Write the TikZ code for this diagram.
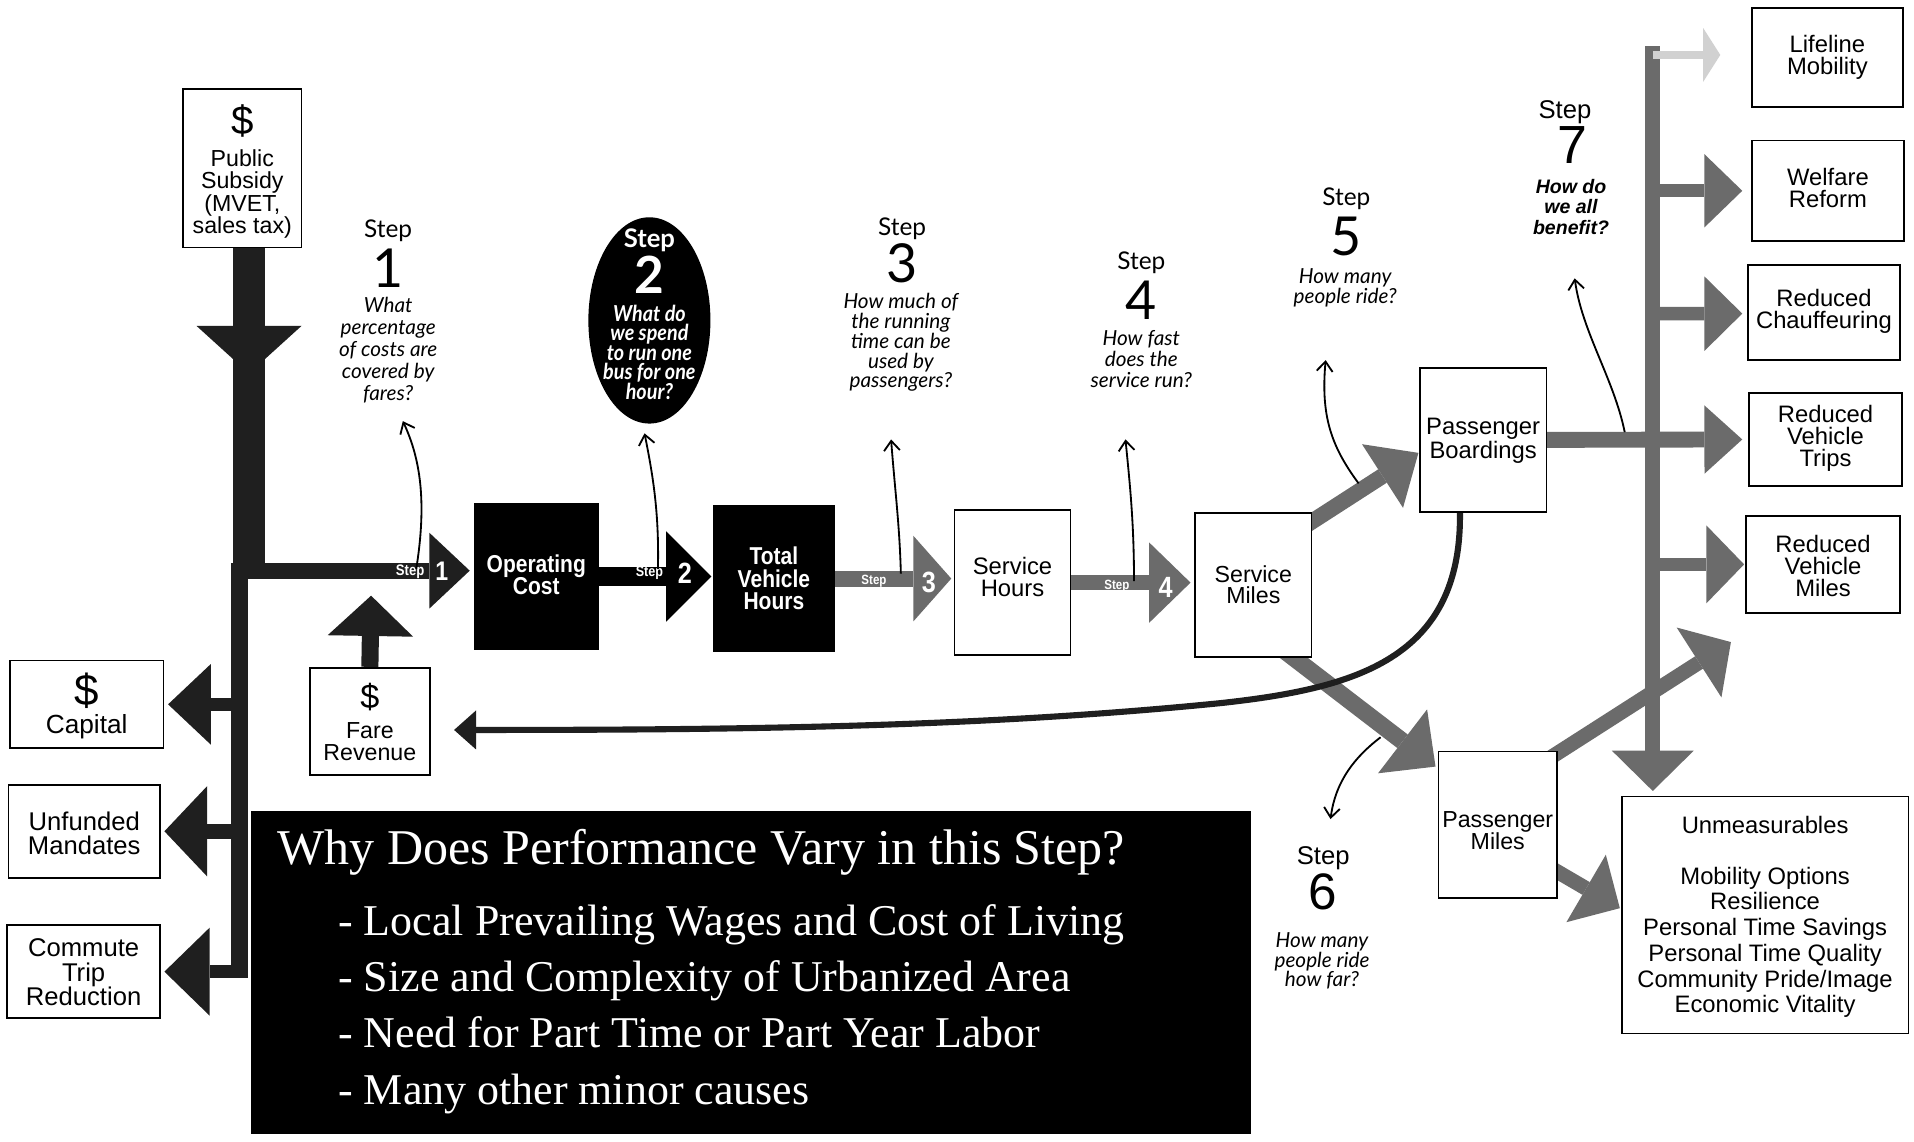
\documentclass[tikz,border=0pt]{standalone}
\usepackage{fontspec}
\setmainfont{Liberation Serif}
\newfontfamily\helv{Liberation Sans}
\newfontfamily\helvn[FakeStretch=0.86]{Liberation Sans}
\newfontfamily\gill{Lato}
\newfontfamily\gilln[FakeStretch=0.9]{Lato}
\usetikzlibrary{arrows.meta,shapes.geometric,backgrounds}
\newcommand\fsz[2]{\fontsize{#1pt}{#2pt}\selectfont}

\colorlet{inkdark}{black!88}
\colorlet{inkgrey}{black!58}
\colorlet{inkfaint}{black!18}

\tikzset{
  framebox/.style={draw=black, line width=1.4pt, fill=white, inner sep=0pt},
  solidbox/.style={fill=black, inner sep=0pt},
  txt/.style={inner sep=0pt, align=center},
  boxtxt/.style={txt, font=\helv\fsz{19.5}{18}},
  boldtxt/.style={txt, text=white, font=\helvn\bfseries\fsz{20}{18.5}},
  steptxt/.style={txt, font=\gill\fsz{20}{20}},
  stepnum/.style={txt, font=\gill\fsz{44}{44}},
  stepq/.style={txt, font=\gill\itshape\fsz{17}{#1}},
  stepq/.default=17.5,
  arrowlbl/.style={txt, text=white, font=\helvn\bfseries\fsz{#1}{#1}},
  blockarrow/.style n args={3}{line width=#1, -{Triangle[length=#2, width=#3, line width=0pt]}},
  question/.style={line width=1.5pt, -{Straight Barb[length=8pt, width=13pt]}},
}

\begin{document}
\begin{tikzpicture}[x=1pt, y=-1pt]
\useasboundingbox (0,0) rectangle (1568,935.5);

% ---------- funding side ----------
\node[framebox, minimum width=97pt, minimum height=130pt] (pub) at (198.5,137.7) {};
\node[txt, font=\helv\fsz{33}{33}] (pubD) at (198.5,99) {\$};
\node[txt, font=\helv\fsz{19}{18.5}] (pubT) at (198.5,159) {Public\\Subsidy\\(MVET,\\sales tax)};

\node[framebox, minimum width=126pt, minimum height=72pt] (cap) at (71,577) {};
\node[txt, font=\helv\fsz{36}{36}] (capD) at (71,566) {\$};
\node[txt, font=\helv\fsz{21.5}{20}] (capT) at (71,595) {Capital};

\node[framebox, minimum width=124pt, minimum height=76pt] (unf) at (69,681) {};
\node[txt, font=\helv\fsz{21}{20}] (unfT) at (69,682.5) {Unfunded\\Mandates};

\node[framebox, minimum width=125pt, minimum height=76pt] (com) at (68.5,796) {};
\node[txt, font=\helv\fsz{21}{20}] (comT) at (68.5,796.5) {Commute\\Trip\\Reduction};

\node[framebox, minimum width=98pt, minimum height=88pt] (fare) at (303,591) {};
\node[txt, font=\helv\fsz{28}{28}] (fareD) at (303,571) {\$};
\node[txt, font=\helv\fsz{19}{18.5}] (fareT) at (303,607.5) {Fare\\Revenue};

% ---------- main chain ----------
\node[solidbox, minimum width=102.6pt, minimum height=120.5pt] (op) at (439.3,472.25) {};
\node[boldtxt] (opT) at (439.3,471) {Operating\\Cost};
\node[solidbox, minimum width=100pt, minimum height=120pt] (tvh) at (634,474) {};
\node[boldtxt] (tvhT) at (634,474) {Total\\Vehicle\\Hours};
\node[framebox, minimum width=95pt, minimum height=118.6pt] (sh) at (829.5,477.3) {};
\node[boxtxt] (shT) at (829.5,473) {Service\\Hours};
\node[framebox, minimum width=95.5pt, minimum height=117.5pt] (sm) at (1026.75,479.25) {};
\node[boxtxt, font=\helv\fsz{19}{17}] (smT) at (1026.75,479) {Service\\Miles};
\node[framebox, minimum width=104pt, minimum height=117.8pt] (pb) at (1215,360.5) {};
\node[boxtxt] (pbT) at (1215,361) {Passenger\\Boardings};
\node[framebox, minimum width=97pt, minimum height=120pt] (pm) at (1227,675.75) {};
\node[boxtxt, font=\helv\fsz{19}{17}] (pmT) at (1227,680.5) {Passenger\\Miles};

% ---------- benefits ----------
\node[framebox, minimum width=124pt, minimum height=81pt] (life) at (1497,47) {};
\node[boxtxt] (lifeT) at (1497,47) {Lifeline\\Mobility};
\node[framebox, minimum width=125pt, minimum height=82.6pt] (welf) at (1497.5,156.3) {};
\node[boxtxt] (welfT) at (1497.5,154) {Welfare\\Reform};
\node[framebox, minimum width=124.5pt, minimum height=77.8pt] (chau) at (1494.25,255.9) {};
\node[boxtxt] (chauT) at (1494.25,255) {Reduced\\Chauffeuring};
\node[framebox, minimum width=125pt, minimum height=76pt] (trip) at (1495.5,360) {};
\node[boxtxt] (tripT) at (1495.5,359) {Reduced\\Vehicle\\Trips};
\node[framebox, minimum width=126pt, minimum height=79.3pt] (vmil) at (1493.5,462.35) {};
\node[boxtxt] (vmilT) at (1493.5,463.5) {Reduced\\Vehicle\\Miles};
\node[framebox, minimum width=234.5pt, minimum height=194pt] (um) at (1446.25,749.55) {};
\node[boxtxt] (umH) at (1446,676) {Unmeasurables};
\node[boxtxt, font=\helv\fsz{19.5}{21.1}] (umT) at (1446,772)
  {Mobility Options\\Resilience\\Personal Time Savings\\Personal Time Quality\\Community Pride/Image\\Economic Vitality};

% ---------- step captions ----------
\node[steptxt] (s1w) at (318,189) {Step};
\node[stepnum] (s1n) at (318,220) {1};
\node[stepq=18] (s1q) at (318,287) {What\\percentage\\of costs are\\covered by\\fares?};

\node[ellipse, fill=black, minimum width=100pt, minimum height=169pt, inner sep=0pt] (s2) at (532,262.5) {};
\node[txt, text=white, font=\gill\bfseries\fsz{21}{21}] (s2w) at (532,197) {Step};
\node[txt, text=white, font=\gill\bfseries\fsz{42}{42}] (s2n) at (532,225) {2};
\node[txt, text=white, font=\gilln\bfseries\itshape\fsz{18}{16}] (s2q) at (532,288.5) {What do\\we spend\\to run one\\bus for one\\hour?};

\node[steptxt] (s3w) at (739,187) {Step};
\node[stepnum] (s3n) at (739,216) {3};
\node[stepq=16.3] (s3q) at (738,280.5) {How much of\\the running\\time can be\\used by\\passengers?};

\node[steptxt] (s4w) at (935,215.6) {Step};
\node[stepnum] (s4n) at (935,246) {4};
\node[stepq=17] (s4q) at (935,294) {How fast\\does the\\service run?};

\node[steptxt] (s5w) at (1103,162.5) {Step};
\node[stepnum] (s5n) at (1103,194) {5};
\node[stepq=16] (s5q) at (1102,236) {How many\\people ride?};

\node[txt, font=\helv\fsz{21}{21}] (s6w) at (1084,703) {Step};
\node[txt, font=\helv\fsz{42}{42}] (s6n) at (1084,731) {6};
\node[stepq=16] (s6q) at (1083,787.5) {How many\\people ride\\how far?};

\node[txt, font=\helv\fsz{21}{21}] (s7w) at (1282,92) {Step};
\node[txt, font=\helv\fsz{44}{44}] (s7n) at (1288,119) {7};
\node[txt, font=\helv\bfseries\itshape\fsz{16}{17}] (s7q) at (1287,169.5) {How do\\we all\\benefit?};

% ---------- explanation panel ----------
\node[solidbox, minimum width=819pt, minimum height=265pt] (why) at (615.5,796.5) {};
\node[anchor=base west, inner sep=0pt, text=white, font=\fsz{41}{41}] (whyH) at (227,708) {Why Does Performance Vary in this Step?};
\begin{scope}[every node/.style={anchor=base west, inner sep=0pt, text=white, font=\fsz{36}{36}}]
  \node (why1) at (277,766) {- Local Prevailing Wages and Cost of Living};
  \node (why2) at (277,812) {- Size and Complexity of Urbanized Area};
  \node (why3) at (277,858) {- Need for Part Time or Part Year Labor};
  \node (why4) at (277,905) {- Many other minor causes};
\end{scope}

% ---------- free ends ----------
\coordinate (trunkL) at (210,467.5);
\coordinate (fareTip) at (304,488);
\coordinate (fareIn) at (372,598);
\coordinate (smOut) at (1055,440);
\coordinate (pbTip) at (1162,371);
\coordinate (smLow) at (1030,516);
\coordinate (pmTip) at (1176,628);
\coordinate (pmUp) at (1240,640);
\coordinate (upTip) at (1418,526);
\coordinate (pmOut) at (1250,699);
\coordinate (umTip) at (1327,744);
\coordinate (barTop) at (1354,38);
\coordinate (barEnd) at (1354,648);

% ---------- arrows (behind the boxes) ----------
\begin{scope}[on background layer]
  \fill[white] (0,0) rectangle (1568,935.5);
  % funding trunk
  \fill[inkdark] (191,200) rectangle (217,474);
  \fill[inkdark] (189,461) rectangle (203,801.5);
  \fill[inkdark] (161,267) -- (247,267) -- (204,306) -- cycle;
  \draw[inkdark, blockarrow={13pt}{33pt}{62pt}, shorten >=3pt] (trunkL) -- ([yshift=4.75pt]op.west);
  \draw[inkdark, blockarrow={11pt}{35pt}{66pt}, shorten >=3pt] (196,577) -- (cap.east);
  \draw[inkdark, blockarrow={12pt}{35pt}{74pt}, shorten >=3pt] (196,681) -- (unf.east);
  \draw[inkdark, blockarrow={11pt}{37pt}{72pt}, shorten >=3pt] (196,796) -- (com.east);
  \draw[inkdark, blockarrow={14pt}{33pt}{70pt}] (fare.north) -- (fareTip);
  % chain
  \draw[black, blockarrow={16pt}{37pt}{74pt}, shorten >=1pt] (op.east) -- (tvh.west |- op.east);
  \draw[inkgrey, blockarrow={13pt}{31pt}{70pt}, shorten >=2pt] (tvh.east) -- (sh.west |- tvh.east);
  \draw[inkgrey, blockarrow={12pt}{34pt}{66pt}, shorten >=3pt] (sh.east) -- (sm.west |- sh.east);
  \draw[inkgrey, blockarrow={13pt}{35pt}{62pt}] (smOut) -- (pbTip);
  \draw[inkgrey, blockarrow={14pt}{34pt}{66pt}] (smLow) -- (pmTip);
  % return of fares
  \draw[inkdark, line width=5pt, -{Triangle[length=18pt, width=32pt, line width=0pt]}]
    (1196,419) .. controls (1198,540) and (1110,564) .. (1000,576)
    .. controls (800,596) and (600,598) .. (fareIn);
  % benefit trunk
  \draw[inkgrey, blockarrow={12pt}{33pt}{67pt}] (barTop) -- (barEnd);
  \draw[inkfaint, blockarrow={6pt}{14pt}{44pt}, shorten >=25pt] (1354,45) -- ([yshift=2pt]life.west);
  \draw[inkgrey, blockarrow={11pt}{31pt}{60pt}, shorten >=7pt] (1354,156.3) -- (welf.west);
  \draw[inkgrey, blockarrow={11pt}{31pt}{61pt}, shorten >=4pt] (1354,257) -- ([yshift=-1pt]chau.west);
  \draw[inkgrey, blockarrow={13pt}{31pt}{56pt}, shorten >=5pt] (pb.center) -- (trip.west);
  \draw[inkgrey, blockarrow={11pt}{31pt}{64pt}, shorten >=1pt] (1354,462.35) -- (vmil.west);
  \draw[inkgrey, blockarrow={12pt}{31pt}{68pt}] (pmUp) -- (upTip);
  \draw[inkgrey, blockarrow={12pt}{32pt}{64pt}] (pmOut) -- (umTip);
\end{scope}

% ---------- labels on the chain arrows ----------
\node[arrowlbl=12.5] (a1w) at (336,468) {Step};
\node[arrowlbl=22] (a1n) at (362,468) {1};
\node[arrowlbl=12] (a2w) at (532,469) {Step};
\node[arrowlbl=24] (a2n) at (561,470) {2};
\node[arrowlbl=11] (a3w) at (716,476) {Step};
\node[arrowlbl=24] (a3n) at (761,477) {3};
\node[arrowlbl=11] (a4w) at (915,480) {Step};
\node[arrowlbl=24] (a4n) at (955,481) {4};

% ---------- question pointers ----------
\coordinate (q1a) at (341,466);  \coordinate (q1b) at (330,345);
\coordinate (q2a) at (539,466);  \coordinate (q2b) at (528,355);
\coordinate (q3a) at (738,470);  \coordinate (q3b) at (730,360);
\coordinate (q4a) at (929,476);  \coordinate (q4b) at (922,360);
\coordinate (q5a) at (1113,396); \coordinate (q5b) at (1086,295);
\coordinate (q6a) at (1131,604); \coordinate (q6b) at (1090,671);
\coordinate (q7a) at (1331,354); \coordinate (q7b) at (1290,228);
\draw[question] (q1a) .. controls (350,410) and (344,375) .. (q1b);
\draw[question] (q2a) .. controls (540,420) and (535,390) .. (q2b);
\draw[question] (q3a) .. controls (737,430) and (733,400) .. (q3b);
\draw[question] (q4a) .. controls (929,430) and (926,400) .. (q4b);
\draw[question] (q5a) .. controls (1090,365) and (1082,340) .. (q5b);
\draw[question] (q6a) .. controls (1110,620) and (1094,640) .. (q6b);
\draw[question] (q7a) .. controls (1322,310) and (1296,272) .. (q7b);
\end{tikzpicture}
\end{document}
